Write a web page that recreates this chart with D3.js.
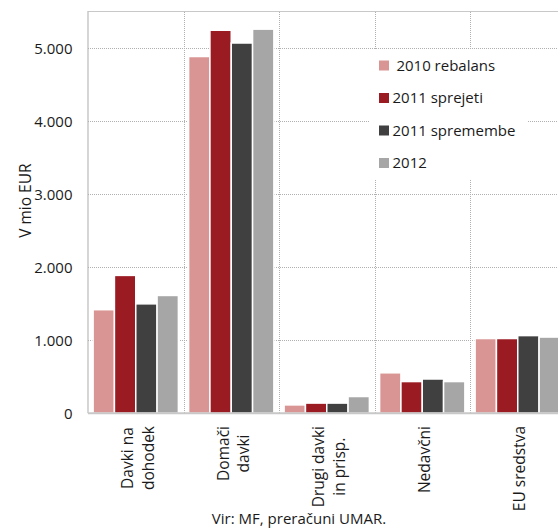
<!DOCTYPE html>
<html>
<head>
<meta charset="utf-8">
<script src="https://cdn.jsdelivr.net/npm/d3@7"></script>
<style>
  html, body { margin: 0; padding: 0; background: #fff; }
  svg { display: block; font-family: "Open Sans", "Noto Sans", sans-serif; }
</style>
</head>
<body>
<svg id="chart" width="558" height="528"></svg>
<script>
// Categories (each entry is one label line list)
const categories = ["Davki na dohodek", "Domači davki", "Drugi davki in prisp.", "Nedavčni", "EU sredstva"];
const categoryLines = [["Davki na", "dohodek"], ["Domači", "davki"], ["Drugi davki", "in prisp."], ["Nedavčni"], ["EU sredstva"]];

// Series names (first one carries a leading space in its label)
const seriesNames = ["2010 rebalans", "2011 sprejeti", "2011 spremembe", "2012"];
const seriesLabels = [" 2010 rebalans", "2011 sprejeti", "2011 spremembe", "2012"];
const seriesColors = ["#d99594", "#9b1b22", "#404040", "#a6a6a6"];

// Values in million EUR, one array per series, ordered as categories
const rebalans2010 = [1420, 4890, 115, 555, 1025];
const sprejeti2011 = [1890, 5250, 140, 435, 1025];
const spremembe2011 = [1500, 5075, 140, 470, 1065];
const plan2012 = [1615, 5265, 230, 435, 1045];
const seriesValues = [rebalans2010, sprejeti2011, spremembe2011, plan2012];

const yTicks = [0, 1000, 2000, 3000, 4000, 5000];
const yMax = 5500;
const yTitle = "V mio EUR";
const sourceNote = "Vir: MF, preračuni UMAR.";

const svg = d3.select("#chart");
const W = 558, H = 528;
const plot = { left: 88, top: 12, right: 565.5, bottom: 413.3 };

const x = d3.scaleBand().domain(categories).range([plot.left, plot.right]).padding(0);
const xs = d3.scaleBand().domain(seriesNames).range([0, x.bandwidth()]).paddingInner(0).paddingOuter(0.24);
const y = d3.scaleLinear().domain([0, yMax]).range([plot.bottom, plot.top]);

const fmt = d3.formatLocale({ decimal: ",", thousands: ".", grouping: [3], currency: ["", " €"] }).format(",");

// Plot frame
svg.append("line")
  .attr("x1", plot.left).attr("x2", plot.right)
  .attr("y1", 11.5).attr("y2", 11.5)
  .attr("stroke", "#c8c8c8").attr("stroke-width", 1.2);
svg.append("line")
  .attr("x1", plot.left).attr("x2", plot.left)
  .attr("y1", 11).attr("y2", plot.bottom)
  .attr("stroke", "#c4c4c4").attr("stroke-width", 1.4);

// Horizontal dotted gridlines
svg.append("g").selectAll("line")
  .data(yTicks.filter(d => d > 0))
  .join("line")
  .attr("x1", plot.left).attr("x2", plot.right)
  .attr("y1", d => Math.round(y(d)) + 0.5).attr("y2", d => Math.round(y(d)) + 0.5)
  .attr("stroke", "#b0b0b0").attr("stroke-width", 1)
  .attr("stroke-dasharray", "1,1");

// Vertical dotted gridlines at category boundaries
svg.append("g").selectAll("line")
  .data(categories.slice(1))
  .join("line")
  .attr("x1", d => Math.round(x(d)) + 0.5).attr("x2", d => Math.round(x(d)) + 0.5)
  .attr("y1", 12).attr("y2", plot.bottom)
  .attr("stroke", "#b0b0b0").attr("stroke-width", 1)
  .attr("stroke-dasharray", "1,1");

// Bars
const groups = svg.append("g").selectAll("g")
  .data(categories)
  .join("g")
  .attr("transform", d => `translate(${x(d)},0)`);

groups.selectAll("rect")
  .data((c, ci) => seriesNames.map((s, si) => ({ s, si, v: seriesValues[si][ci] })))
  .join("rect")
  .attr("x", d => xs(d.s))
  .attr("width", xs.bandwidth())
  .attr("y", d => y(d.v))
  .attr("height", d => y(0) - y(d.v))
  .attr("fill", d => seriesColors[d.si])
  .attr("stroke", "#fff")
  .attr("stroke-width", 1.5);

// Baseline
svg.append("line")
  .attr("x1", plot.left).attr("x2", plot.right)
  .attr("y1", plot.bottom).attr("y2", plot.bottom)
  .attr("stroke", "#c8c8c8").attr("stroke-width", 2);

// Y axis labels
const yAxis = d3.axisLeft(y).tickValues(yTicks).tickSize(0).tickPadding(0).tickFormat(fmt);
const yg = svg.append("g").attr("transform", "translate(72.5,0)").call(yAxis);
yg.select(".domain").remove();
yg.selectAll("text").attr("font-size", 15).attr("fill", "#1a1a1a")
  .attr("font-family", "'Open Sans', sans-serif");

// Y axis title
svg.append("text")
  .attr("transform", `translate(31,${(plot.top + plot.bottom) / 2 - 12}) rotate(-90)`)
  .attr("text-anchor", "middle")
  .attr("font-size", 15.5).attr("fill", "#1a1a1a")
  .text(yTitle);

// Category labels, rotated, lines centred within the label block
const lineGap = 20.5;
const labelTop = 426;
categories.forEach((c, ci) => {
  const lines = categoryLines[ci];
  const cx = x(c) + x.bandwidth() / 2 + 2;
  const n = lines.length;
  const texts = lines.map((t, li) => {
    const bx = cx + (li - (n - 1) / 2) * lineGap + 5.5;
    return svg.append("text")
      .attr("text-anchor", "middle")
      .attr("font-size", 15.5).attr("fill", "#1a1a1a")
      .attr("data-bx", bx)
      .text(t);
  });
  const maxLen = d3.max(texts, t => t.node().getComputedTextLength());
  const cy = labelTop + maxLen / 2;
  texts.forEach(t => t.attr("transform", `translate(${t.attr("data-bx")},${cy}) rotate(-90)`));
});

// Legend
const legend = svg.append("g");
legend.append("rect")
  .attr("x", 370).attr("y", 50).attr("width", 157).attr("height", 129)
  .attr("fill", "#fff");
const rowY = d3.scalePoint().domain(seriesNames).range([65.5, 163]);
const items = legend.selectAll("g.item")
  .data(seriesNames)
  .join("g").attr("class", "item")
  .attr("transform", d => `translate(379,${rowY(d)})`);
items.append("rect")
  .attr("x", 0).attr("y", -5).attr("width", 10).attr("height", 10)
  .attr("fill", (d, i) => seriesColors[i]);
items.append("text")
  .attr("x", 13.5).attr("y", 5.3)
  .attr("font-size", 15).attr("fill", "#1a1a1a")
  .style("white-space", "pre")
  .text((d, i) => seriesLabels[i]);

// Source note
svg.append("text")
  .attr("x", 299).attr("y", 524)
  .attr("text-anchor", "middle")
  .attr("font-size", 15).attr("fill", "#1a1a1a")
  .text(sourceNote);
</script>
</body>
</html>
